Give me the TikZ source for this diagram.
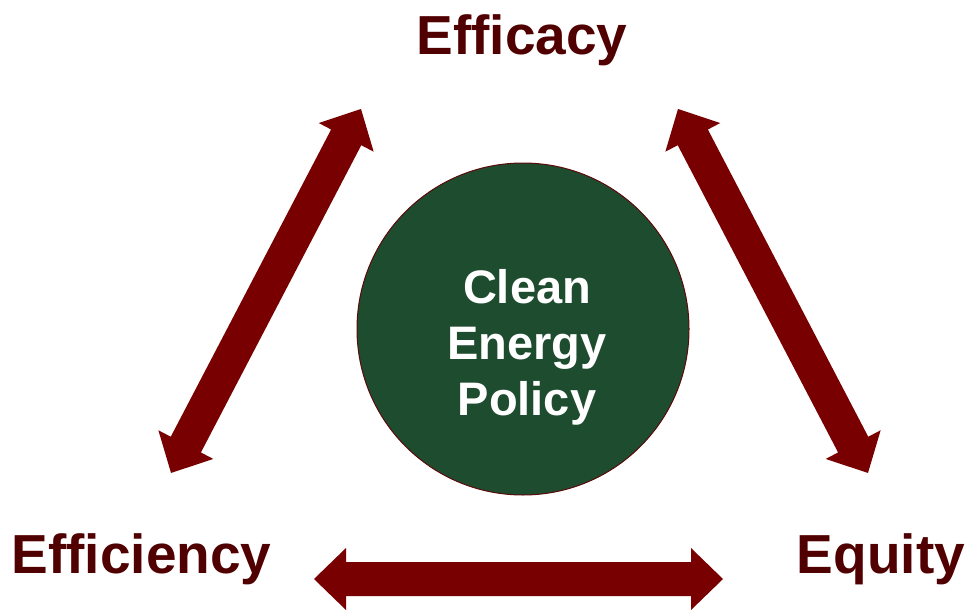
\documentclass[tikz,border=0pt]{standalone}
\usepackage{fontspec}
\setmainfont{Liberation Sans}[Ligatures=NoCommon]
\usetikzlibrary{calc}
\definecolor{txtred}{RGB}{80,0,0}
\definecolor{arrred}{RGB}{120,0,0}
\definecolor{pgreen}{RGB}{30,76,47}
\definecolor{rimred}{RGB}{90,10,10}
\tikzset{
  lbl/.style={text=txtred, font=\fontsize{55}{60}\selectfont\bfseries, inner sep=0pt, anchor=base},
  hub/.style={circle, draw=rimred, fill=pgreen, line width=1pt, minimum size=332pt, inner sep=0pt},
  hubtext/.style={text=white, font=\fontsize{47}{56}\selectfont\bfseries, align=center, inner sep=0pt},
  blockarrow/.style={fill=arrred}
}
\newcommand\blockarrowdraw[2]{%
  \fill[blockarrow] let \p1=(#1), \p2=(#2),
      \n1={atan2(\y2-\y1,\x2-\x1)}, \n2={veclen(\x2-\x1,\y2-\y1)} in
    {[shift={(\p1)}, rotate=\n1]
      (0,0) -- (32,31) -- (32,17) -- ({\n2-32},17) -- ({\n2-32},31) -- (\n2,0)
      -- ({\n2-32},-31) -- ({\n2-32},-17) -- (32,-17) -- (32,-31) -- cycle};}
\begin{document}
\begin{tikzpicture}[x=1pt,y=-1pt]
\useasboundingbox (0,0) rectangle (966,610);
\node[lbl] (efficacy) at (522,55) {Efficacy};
\node[lbl] (efficiency) at (141.5,573) {Efficiency};
\node[lbl] (equity) at (881,573) {Equity};
\node[hub] (policy) at (523,329) {};
\node[hubtext] (policytext) at (527,347) {Clean\\Energy\\Policy};
\coordinate (lt) at (361,109);
\coordinate (lb) at (171,473);
\coordinate (rt) at (678,109);
\coordinate (rb) at (868,473);
\coordinate (bl) at (314,579);
\coordinate (br) at (723,579);
\blockarrowdraw{lt}{lb}
\blockarrowdraw{rt}{rb}
\blockarrowdraw{bl}{br}
\end{tikzpicture}
\end{document}
